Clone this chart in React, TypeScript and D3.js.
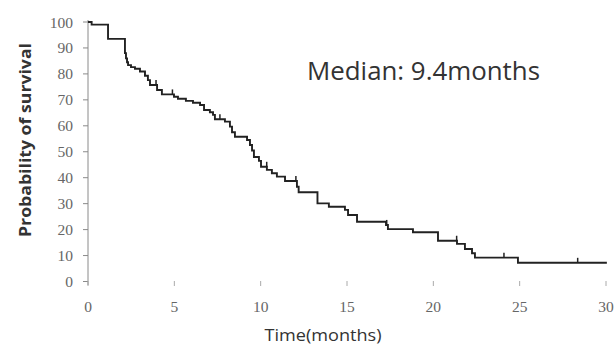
import { useMemo } from 'react';
import * as d3 from 'd3';

// Kaplan–Meier steps (time in months, survival in %)
const stepTimes = [
  0, 0.21, 1.16, 2.14, 2.2, 2.26, 2.32, 2.49, 2.72, 3.01, 3.3, 3.47, 3.59, 4.0,
  4.28, 4.98, 5.21, 5.67, 6.08, 6.49, 6.72, 7.06, 7.24, 7.35, 7.93, 8.22, 8.34,
  8.51, 9.21, 9.38, 9.5, 9.61, 9.9, 10.02, 10.36, 10.65, 10.94, 11.41, 12.1,
  12.2, 13.29, 13.95, 14.88, 15.06, 15.58, 17.26, 17.37, 18.82, 20.27, 21.37,
  21.83, 22.24, 22.41, 24.9,
];
const survival = [
  100, 99, 93.5, 88, 86, 84.5, 83.4, 82.6, 82, 80.9, 79.3, 77.6, 75.7, 73.8,
  72.1, 71.2, 70.4, 69.6, 68.9, 68, 66.1, 65.2, 64.2, 62.5, 61.6, 59.7, 57.5,
  55.8, 54.5, 52.6, 50.5, 48, 46.5, 44.2, 43, 41.7, 40.4, 38.7, 36.5, 34.4,
  30.1, 28.8, 27.6, 25.6, 23, 21.8, 20.2, 19, 15.7, 14.5, 12.5, 10.9, 9.2, 7.2,
];
const endTime = 30.05;
const censorTimes = [3.94, 4.89, 7.64, 10.35, 12.04, 17.3, 21.35, 24.09, 28.36];

const xTicks = [0, 5, 10, 15, 20, 25, 30];
const yTicks = [0, 10, 20, 30, 40, 50, 60, 70, 80, 90, 100];

const width = 614;
const height = 345;

export default function App() {
  const x = d3.scaleLinear().domain([0, 30]).range([88, 606]);
  const y = d3.scaleLinear().domain([0, 100]).range([281.5, 22]);

  const { path, censors } = useMemo(() => {
    const pts: [number, number][] = stepTimes.map((t, i) => [t, survival[i]]);
    pts.push([endTime, survival[survival.length - 1]]);
    const line = d3
      .line<[number, number]>()
      .x((d) => x(d[0]))
      .y((d) => y(d[1]))
      .curve(d3.curveStepAfter);
    const bis = d3.bisector((t: number) => t).right;
    const censors = censorTimes.map((t) => {
      const i = Math.max(0, bis(stepTimes, t) - 1);
      return { t, s: survival[i] };
    });
    return { path: line(pts) ?? '', censors };
  }, []); // eslint-disable-line react-hooks/exhaustive-deps

  const tickFont = '"Liberation Serif", "DejaVu Serif", serif';
  const sans = '"Open Sans", "Liberation Sans", sans-serif';

  return (
    <div style={{ position: 'absolute', left: 0, top: 0 }}>
      <svg width={width} height={height} style={{ display: 'block', background: '#fff' }}>
        {/* Y axis */}
        <line x1={88} x2={88} y1={20} y2={285} stroke='#8a8a8a' strokeWidth={1} />
        {yTicks.map((t) => (
          <g key={t}>
            <line x1={83} x2={88} y1={y(t)} y2={y(t)} stroke='#8a8a8a' />
            <text
              x={73}
              y={y(t)}
              textAnchor='end'
              dominantBaseline='central'
              fontFamily={tickFont}
              fontSize={15.5}
              fill='#666'
            >
              {t}
            </text>
          </g>
        ))}

        {/* X ticks (no axis line) */}
        {xTicks.map((t) => (
          <g key={t}>
            <line x1={x(t)} x2={x(t)} y1={281} y2={286} stroke='#aaa' />
            <text
              x={x(t)}
              y={312}
              textAnchor='middle'
              fontFamily={tickFont}
              fontSize={15.5}
              fill='#666'
            >
              {t}
            </text>
          </g>
        ))}

        {/* Survival curve */}
        <path d={path} fill='none' stroke='#222' strokeWidth={1.9} />
        {censors.map((c) => (
          <line
            key={c.t}
            x1={x(c.t)}
            x2={x(c.t)}
            y1={y(c.s)}
            y2={y(c.s) - 5}
            stroke='#222'
            strokeWidth={1.5}
          />
        ))}

        {/* Titles */}
        <text
          transform='translate(31,140) rotate(-90)'
          textAnchor='middle'
          fontFamily={sans}
          fontWeight='bold'
          fontSize={16}
          fill='#333'
          textLength={194}
          lengthAdjust='spacingAndGlyphs'
        >
          Probability of survival
        </text>
        <text
          x={323}
          y={341}
          textAnchor='middle'
          fontFamily={sans}
          fontSize={17}
          fill='#333'
          textLength={117}
          lengthAdjust='spacingAndGlyphs'
        >
          Time(months)
        </text>
        <text
          x={307}
          y={80}
          fontFamily={sans}
          fontSize={25}
          fill='#333'
          textLength={233}
          lengthAdjust='spacingAndGlyphs'
        >
          Median: 9.4months
        </text>
      </svg>
    </div>
  );
}
